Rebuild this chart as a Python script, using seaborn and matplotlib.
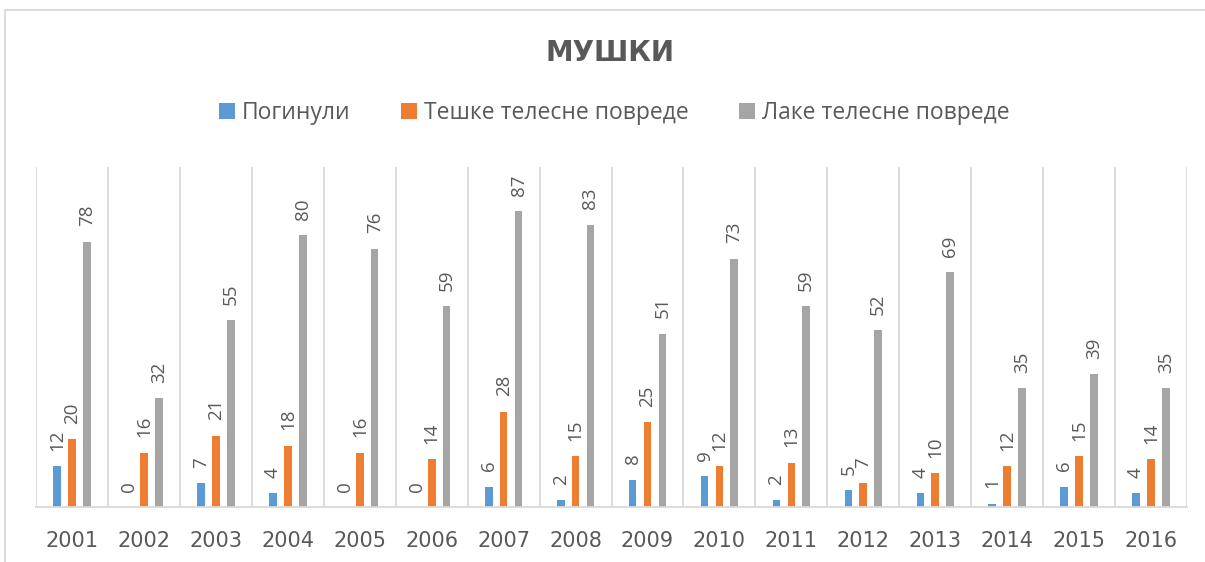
import numpy as np
import pandas as pd
import seaborn as sns
import matplotlib.pyplot as plt
from matplotlib.patches import Rectangle, Patch

# podaci
years = ["2001", "2002", "2003", "2004", "2005", "2006", "2007", "2008",
         "2009", "2010", "2011", "2012", "2013", "2014", "2015", "2016"]
series = ["Погинули", "Тешке телесне повреде", "Лаке телесне повреде"]
poginuli = [12, 0, 7, 4, 0, 0, 6, 2, 8, 9, 2, 5, 4, 1, 6, 4]
teske = [20, 16, 21, 18, 16, 14, 28, 15, 25, 12, 13, 7, 10, 12, 15, 14]
lake = [78, 32, 55, 80, 76, 59, 87, 83, 51, 73, 59, 52, 69, 35, 39, 35]
colors = ["#5B9BD5", "#ED7D31", "#A5A5A5"]

df = pd.DataFrame({
    "year": years * 3,
    "series": [series[0]] * 16 + [series[1]] * 16 + [series[2]] * 16,
    "value": poginuli + teske + lake,
})

sns.set_theme(style="white")
plt.rcParams["font.family"] = ["Open Sans", "DejaVu Sans"]
txt = "#595959"
grid = "#d9d9d9"

fig = plt.figure(figsize=(12.05, 5.62), dpi=100)
ax = fig.add_axes([0.030, 0.098, 0.955, 0.605])

sns.barplot(data=df, x="year", y="value", hue="series", order=years,
            hue_order=series, palette=colors, saturation=1, width=0.62,
            gap=0.49, linewidth=0, legend=False, ax=ax)

for cont in ax.containers:
    ax.bar_label(cont, rotation=90, padding=11, fontsize=13.5, color=txt)

ax.set_xlim(-0.5, 15.5)
ax.set_ylim(0, 100)
ax.set_xticks(np.arange(-0.5, 16, 1), minor=True)
ax.grid(which="minor", axis="x", color=grid, lw=1.3)
ax.grid(which="major", visible=False)
ax.tick_params(which="both", length=0)
ax.tick_params(axis="x", labelsize=15, labelcolor=txt, pad=17)
for lbl in ax.get_xticklabels():
    lbl.set_family(["DejaVu Sans"])
ax.set_yticks([])
ax.set_xlabel("")
ax.set_ylabel("")
for s in ["left", "right", "top"]:
    ax.spines[s].set_visible(False)
ax.spines["bottom"].set_color(grid)
ax.spines["bottom"].set_linewidth(1.3)

handles = [Patch(facecolor=c, edgecolor="none") for c in colors]
fig.legend(handles, series, loc="center", bbox_to_anchor=(0.510, 0.799),
           ncol=3, frameon=False, fontsize=16.5, labelcolor=txt,
           handlelength=0.7, handleheight=0.7, handletextpad=0.3,
           columnspacing=2.2)

fig.text(0.506, 0.905, "МУШКИ", ha="center", va="center", fontsize=20,
         fontweight="bold", color=txt, family=["DejaVu Sans"])

# okvir grafikona
fig.add_artist(Rectangle((5 / 1205, -0.1), 1.2, 1 - 10 / 562 + 0.1,
                         transform=fig.transFigure, fill=False,
                         edgecolor=grid, lw=1.3))

fig.savefig("out.png", dpi=100, facecolor="white")
